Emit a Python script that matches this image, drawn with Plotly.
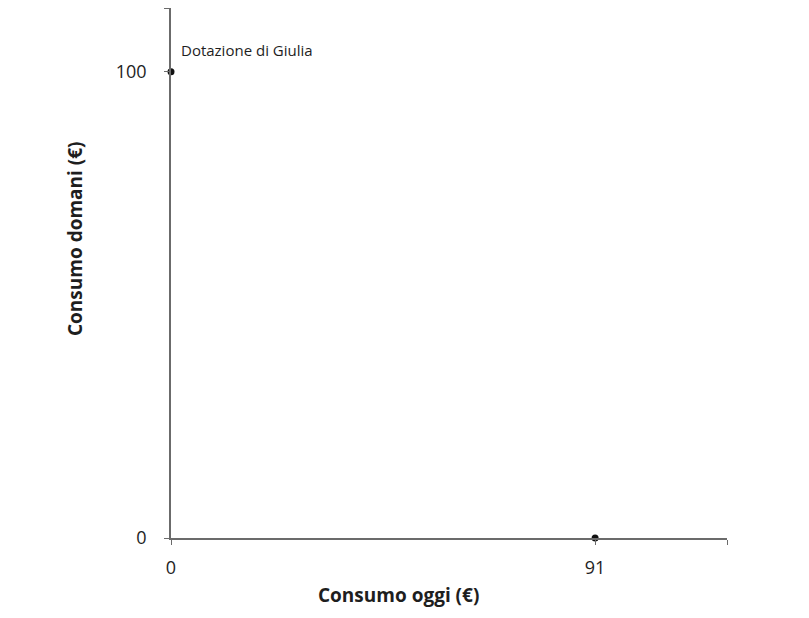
import plotly.graph_objects as go

x_points = [0, 91]
y_points = [100, 0]
x_tickvals = [0, 91]
y_tickvals = [0, 100]
x_max = 119.3
y_max = 113.7
label_text = "Dotazione di Giulia"
x_title = "Consumo oggi (€)"
y_title = "Consumo domani (€)"

axis_color = "#6b6b6b"
text_color = "#1e1e1e"
font_family = "'Open Sans', 'Noto Sans', sans-serif"

fig = go.Figure()
fig.add_trace(go.Scatter(
    x=x_points, y=y_points, mode="markers",
    marker=dict(color="#111111", size=7),
    cliponaxis=False, showlegend=False, hoverinfo="skip"))

fig.add_annotation(x=x_points[0], y=y_points[0], text=label_text,
                   xref="x", yref="y", showarrow=False,
                   xanchor="left", yanchor="middle", xshift=8, yshift=22,
                   font=dict(family=font_family, size=15, color=text_color))

# axis titles placed like the reference (not centred on the plot area)
fig.add_annotation(x=0.410, y=-0.1075, xref="paper", yref="paper",
                   text="<b>" + x_title + "</b>", showarrow=False,
                   xanchor="center", yanchor="middle",
                   font=dict(family=font_family, size=19, color=text_color))
fig.add_annotation(x=-0.1727, y=0.566, xref="paper", yref="paper",
                   text="<b>" + y_title + "</b>", showarrow=False, textangle=-90,
                   xanchor="center", yanchor="middle",
                   font=dict(family=font_family, size=19, color=text_color))

fig.update_layout(
    width=809, height=618,
    margin=dict(l=163, r=90, t=0, b=88),
    paper_bgcolor="white", plot_bgcolor="white",
    font=dict(family=font_family, size=18, color=text_color),
    xaxis=dict(range=[0, x_max], tickvals=x_tickvals + [x_max],
               ticktext=[str(v) for v in x_tickvals] + [""],
               showgrid=False, zeroline=False, showline=True, automargin=False,
               linecolor=axis_color, linewidth=1.5,
               ticks="outside", ticklen=5, tickcolor=axis_color,
               ticklabelstandoff=8),
    yaxis=dict(range=[0, y_max], tickvals=y_tickvals + [y_max],
               ticktext=[str(v) for v in y_tickvals] + [""],
               showgrid=False, zeroline=False, showline=True, automargin=False,
               linecolor=axis_color, linewidth=1.5,
               ticks="outside", ticklen=5, tickcolor=axis_color,
               ticklabelstandoff=14),
)

fig.write_html("out.html")
